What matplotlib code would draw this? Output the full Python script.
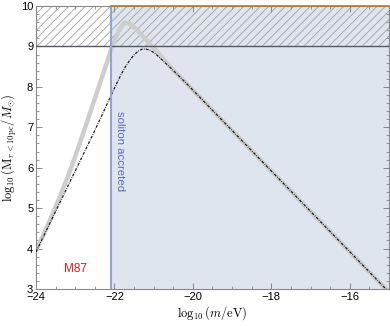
import matplotlib
matplotlib.use("Agg")
import matplotlib.pyplot as plt
from matplotlib.ticker import MultipleLocator

plt.rcParams['font.family'] = ['Liberation Sans', 'DejaVu Sans']
plt.rcParams['mathtext.fontset'] = 'cm'
plt.rcParams['hatch.linewidth'] = 0.6

# data
black_x = [-24, -23.5, -23, -22.5, -22.1, -22.0, -21.9, -21.8, -21.7, -21.6, -21.5, -21.4,
           -21.3, -21.22, -21.1, -21.0, -20.9, -20.8, -20.6, -20.4, -20.2, -20,
           -19, -18, -17, -16, -15]
black_y = [3.92, 4.92, 5.92, 6.92, 7.76, 7.97, 8.17, 8.36, 8.53, 8.67, 8.79, 8.88,
           8.93, 8.94, 8.91, 8.85, 8.77, 8.68, 8.5, 8.31, 8.12, 7.92,
           6.92, 5.92, 4.92, 3.92, 2.92]
gray_x = [-24, -23.8, -23.6, -23.4, -23.2, -23.0, -22.8, -22.6, -22.4, -22.2, -22.1,
          -22.0, -21.9, -21.8, -21.73, -21.65, -21.55, -21.4, -21.2, -21.0, -20.8,
          -20.6, -20.4, -20.2, -20, -19, -18, -17, -16, -15]
gray_y = [3.95, 4.36, 4.8, 5.26, 5.75, 6.28, 6.84, 7.42, 8.0, 8.58, 8.87,
          9.14, 9.36, 9.52, 9.58, 9.58, 9.52, 9.38, 9.17, 8.96, 8.74,
          8.52, 8.32, 8.12, 7.92, 6.92, 5.92, 4.92, 3.92, 2.92]
accreted_x_min = -22.1
excluded_y = [9, 10]
x_lim = [-24, -15]
y_lim = [3, 10]

fig = plt.figure(figsize=(3.9, 3.26), dpi=100)
ax = fig.add_axes([36/390, 1-289/326, 353/390, 283/326])

ax.axvspan(accreted_x_min, x_lim[1], color='#dfe5ef', lw=0, zorder=0)
ax.fill_between(x_lim, excluded_y[0], excluded_y[1], facecolor='none',
                edgecolor='#a0a0a0', hatch='////', lw=0, zorder=1)
ax.plot(gray_x, gray_y, color='#cdcdcd', lw=3.2, solid_capstyle='butt',
        solid_joinstyle='round', zorder=2)
ax.plot(black_x, black_y, color='#1a1a1a', lw=0.9, dashes=(2.2, 1.0, 0.6, 1.0), zorder=3)
ax.axhline(excluded_y[0], color='#505a66', lw=1.0, zorder=4)
ax.axvline(accreted_x_min, color='#90a8d0', lw=1.5, zorder=4)
ax.plot([accreted_x_min, x_lim[1]], [excluded_y[1], excluded_y[1]], color='#a8802a',
        lw=1.2, zorder=5, clip_on=False)

ax.text(-21.86, 7.4, 'soliton accreted', rotation=-90, va='top', ha='center',
        color='#5b6fb0', fontsize=8.2)
ax.text(-23.0, 3.49, 'M87', color='#e8141c', fontsize=8.5, ha='center', va='center')

ax.set_xlim(x_lim)
ax.set_ylim(y_lim)
ax.xaxis.set_major_locator(MultipleLocator(2))
ax.xaxis.set_minor_locator(MultipleLocator(0.5))
ax.yaxis.set_major_locator(MultipleLocator(1))
ax.yaxis.set_minor_locator(MultipleLocator(0.2))
ax.tick_params(which='both', direction='in', color='#888888', top=True, right=True,
               labelsize=8, pad=2)
ax.tick_params(which='major', length=4, width=0.7)
ax.tick_params(which='minor', length=2.2, width=0.6)
for s in ax.spines.values():
    s.set_color('#888888')
    s.set_linewidth(0.8)

ax.set_xlabel(r'$\log_{10}(m/\mathrm{eV})$', fontsize=9, labelpad=2)
ax.set_ylabel(r'$\log_{10}(\mathrm{M}_{r<10\mathrm{pc}}/M_{\odot})$', fontsize=9, labelpad=1)

fig.savefig('out.png', dpi=100)
